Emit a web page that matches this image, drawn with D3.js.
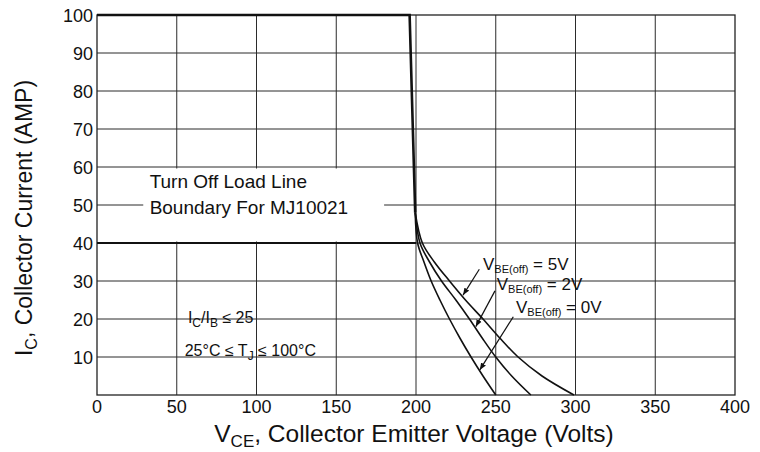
<!DOCTYPE html>
<head>
  <meta charset="utf-8">
  <title>Turn Off Load Line</title>
  <script src="https://d3js.org/d3.v7.min.js"></script>
  <style type="text/css">
    body { margin: 0; background: #fff; }
    svg { font-family: "Liberation Sans", Arial, sans-serif; }
    .grid { stroke: #2b2b2b; stroke-width: 1px; fill: none; }
    .frame { stroke: #222; stroke-width: 1.3px; fill: none; }
    .curve { stroke: #111; stroke-width: 1.6px; fill: none; }
    .bound { stroke: #111; stroke-width: 2.6px; fill: none; }
    .arrow { stroke: #111; stroke-width: 1.2px; }
    text { fill: #111; }
  </style>
</head>
<body>
<div id="graph-container"></div>
<script>
// ---- data ----
const xTicks = [0, 50, 100, 150, 200, 250, 300, 350, 400];
const yTicks = [10, 20, 30, 40, 50, 60, 70, 80, 90, 100];

// load line boundary: flat at 100 A, then the near vertical drop at ~200 V
const boundary = [[0, 100], [196, 100], [199.5, 48]];
const floorLine = [[0, 40], [200, 40]];

// [V, I] for the three V_BE(off) curves
const curve0V = [[199.5, 48], [201, 40], [205, 35], [209.5, 30], [215, 25],
                 [221, 20], [227.5, 15], [234.5, 10], [242, 5], [250, 0]];
const curve2V = [[199.5, 48], [202.5, 40], [208.5, 35], [216, 30], [225, 25],
                 [233.5, 20], [241.5, 15], [250, 10], [260, 5], [272, 0]];
const curve5V = [[199.5, 48], [204, 40], [211.5, 35], [221, 30], [231, 25],
                 [242, 20], [252.5, 15], [264, 10], [279, 5], [299, 0]];

const curveLabels = ["5V", "2V", "0V"];
const labelPos = [[242, 32.9], [250.6, 27.6], [262.7, 21.6]];
const arrowFrom = [[239.7, 33.1], [249.5, 27.4], [261, 20.6]];
const arrowTo = [[229.5, 26.3], [237.5, 18.0], [240, 6.6]];

// label box (white) behind the text
const boxV = [29, 180], boxI = [40.4, 59.6];

// ---- chart ----
const width = 760, height = 452;
const x = d3.scaleLinear().domain([0, 400]).range([97, 735]);
const y = d3.scaleLinear().domain([0, 100]).range([395, 15]);

const svg = d3.select("#graph-container").append("svg")
    .attr("width", width)
    .attr("height", height);

svg.append("defs").append("marker")
    .attr("id", "head")
    .attr("viewBox", "0 0 10 10")
    .attr("refX", 10).attr("refY", 5)
    .attr("markerWidth", 7).attr("markerHeight", 7)
    .attr("markerUnits", "userSpaceOnUse")
    .attr("orient", "auto")
  .append("path")
    .attr("d", "M0,1 L10,5 L0,9 Z")
    .attr("fill", "#111");

// grid
svg.append("g").selectAll("line.v")
    .data(xTicks.slice(1, -1))
  .enter().append("line")
    .attr("class", "grid")
    .attr("x1", d => x(d)).attr("x2", d => x(d))
    .attr("y1", y(0)).attr("y2", y(100));

svg.append("g").selectAll("line.h")
    .data(yTicks.slice(0, -1))
  .enter().append("line")
    .attr("class", "grid")
    .attr("x1", x(0)).attr("x2", x(400))
    .attr("y1", d => y(d)).attr("y2", d => y(d));

// white label box
svg.append("rect")
    .attr("x", x(boxV[0])).attr("y", y(boxI[1]))
    .attr("width", x(boxV[1]) - x(boxV[0]))
    .attr("height", y(boxI[0]) - y(boxI[1]))
    .attr("fill", "#fff");

svg.append("rect")
    .attr("class", "frame")
    .attr("x", x(0)).attr("y", y(100))
    .attr("width", x(400) - x(0))
    .attr("height", y(0) - y(100));

const line = d3.line().x(d => x(d[0])).y(d => y(d[1]));
const smooth = d3.line().x(d => x(d[0])).y(d => y(d[1])).curve(d3.curveCatmullRom.alpha(0.5));

svg.append("path").attr("class", "bound").attr("d", line(boundary));
svg.append("path").attr("class", "bound").attr("d", line(floorLine)).style("stroke-width", "2px");

[curve0V, curve2V, curve5V].forEach(c => {
  svg.append("path").attr("class", "curve").attr("d", smooth(c));
});

// tick labels
svg.append("g").selectAll("text")
    .data(xTicks)
  .enter().append("text")
    .attr("x", d => x(d))
    .attr("y", 413)
    .attr("text-anchor", "middle")
    .attr("font-size", 18)
    .text(d => d);

svg.append("g").selectAll("text")
    .data(yTicks)
  .enter().append("text")
    .attr("x", x(0) - 4)
    .attr("y", d => y(d) + 7)
    .attr("text-anchor", "end")
    .attr("font-size", 18)
    .text(d => d);

// axis titles
const xt = svg.append("text")
    .attr("x", 414).attr("y", 442)
    .attr("text-anchor", "middle")
    .attr("font-size", 24.5);
xt.append("tspan").text("V");
xt.append("tspan").attr("font-size", 17).attr("dy", 5).text("CE");
xt.append("tspan").attr("dy", -5).text(", Collector Emitter Voltage (Volts)");

const yt = svg.append("text")
    .attr("transform", "translate(32,218) rotate(-90)")
    .attr("text-anchor", "middle")
    .attr("font-size", 23);
yt.append("tspan").text("I");
yt.append("tspan").attr("font-size", 16).attr("dy", 5).text("C");
yt.append("tspan").attr("dy", -5).text(", Collector Current (AMP)");

// box text
svg.append("text").attr("x", x(33)).attr("y", y(54.6)).attr("font-size", 19).text("Turn Off Load Line");
svg.append("text").attr("x", x(33)).attr("y", y(47.6)).attr("font-size", 19).text("Boundary For MJ10021");

// conditions
const c1 = svg.append("text").attr("x", x(57)).attr("y", y(19)).attr("font-size", 16);
c1.append("tspan").text("I");
c1.append("tspan").attr("font-size", 12).attr("dy", 4).text("C");
c1.append("tspan").attr("dy", -4).text("/I");
c1.append("tspan").attr("font-size", 12).attr("dy", 4).text("B");
c1.append("tspan").attr("dy", -4).text(" ≤ 25");

const c2 = svg.append("text").attr("x", x(55)).attr("y", y(10.2)).attr("font-size", 16);
c2.append("tspan").text("25°C ≤ T");
c2.append("tspan").attr("font-size", 12).attr("dy", 4).text("J");
c2.append("tspan").attr("dy", -4).text(" ≤ 100°C");

// curve labels and arrows
curveLabels.forEach((lab, i) => {
  svg.append("line")
      .attr("class", "arrow")
      .attr("x1", x(arrowFrom[i][0])).attr("y1", y(arrowFrom[i][1]))
      .attr("x2", x(arrowTo[i][0])).attr("y2", y(arrowTo[i][1]))
      .attr("marker-end", "url(#head)");
  const t = svg.append("text")
      .attr("x", x(labelPos[i][0])).attr("y", y(labelPos[i][1]))
      .attr("font-size", 17);
  t.append("tspan").text("V");
  t.append("tspan").attr("font-size", 11).attr("dy", 3).text("BE(off)");
  t.append("tspan").attr("dy", -3).text(" = " + lab);
});
</script>
